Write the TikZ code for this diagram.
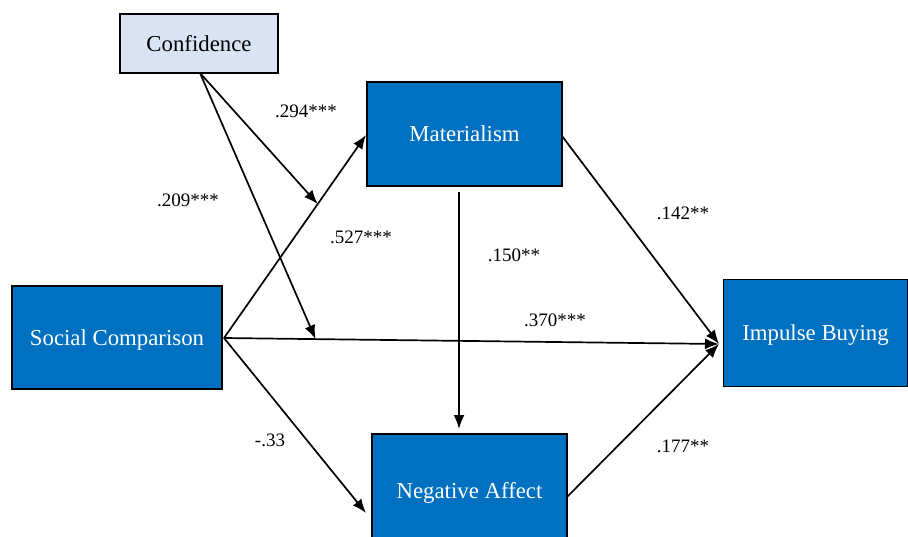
\documentclass[tikz,border=0pt]{standalone}
\usepackage{fontspec}
\setmainfont{Liberation Serif}
\usetikzlibrary{arrows.meta,calc}
\definecolor{boxblue}{HTML}{0070C0}
\definecolor{lightblue}{HTML}{DAE3F3}
\begin{document}
\begin{tikzpicture}[x=1pt,y=-1pt,
  bluebox/.style={draw=black,line width=1.8pt,fill=boxblue,text=white,inner sep=0pt,text depth=0pt,font=\fontsize{22.8}{26}\selectfont},
  lightbox/.style={draw=black,line width=1.8pt,fill=lightblue,text=black,inner sep=0pt,text depth=0pt,font=\fontsize{22.8}{26}\selectfont},
  conn/.style={line width=1.7pt,-{Latex[length=14pt,width=11pt]}},
  lbl/.style={font=\fontsize{19}{22}\selectfont,inner sep=0pt}]
\useasboundingbox (0,0) rectangle (908,536);
\node[lightbox,minimum width=158pt,minimum height=59pt] (conf) at (199,43.5) {Confidence};
\node[bluebox,minimum width=195pt,minimum height=104pt] (mat) at (464.5,134) {Materialism};
\node[bluebox,minimum width=210pt,minimum height=103pt,text depth=-4pt] (sc) at (117,337.5) {Social Comparison};
\node[bluebox,minimum width=184pt,minimum height=107pt,text depth=-3pt] (ib) at (815.5,333) {Impulse Buying};
\node[bluebox,minimum width=195pt,minimum height=112pt] (na) at (469.5,490) {Negative Affect};
\coordinate (scR) at (224,338);
\coordinate (ibL) at (719,344);
\coordinate (matL) at (366,135);
\coordinate (matR) at (562,136);
\coordinate (confB) at (200,73);
\coordinate (matB) at (459,192);
\coordinate (naT) at (459,429);
\coordinate (naL) at (366,513);
\coordinate (naR) at (567,497);
\coordinate (t1) at ($(scR)!0.66!(matL)$);
\coordinate (t2) at ($(scR)!0.185!(ibL)$);
\draw[conn] (scR) -- (matL);
\draw[conn] (scR) -- (ibL);
\draw[conn] (scR) -- (naL);
\draw[conn] (confB) -- (t1);
\draw[conn] (confB) -- (t2);
\draw[conn] (matB) -- (naT);
\draw[conn] (matR) -- (ibL);
\draw[conn] (naR) -- (ibL);
\node[lbl] (l1) at (306,111) {.294***};
\node[lbl] (l2) at (188,200) {.209***};
\node[lbl] (l3) at (361,237) {.527***};
\node[lbl] (l4) at (514,255) {.150**};
\node[lbl] (l5) at (683,213) {.142**};
\node[lbl] (l6) at (555,320) {.370***};
\node[lbl] (l7) at (270,440) {-.33};
\node[lbl] (l8) at (683,446) {.177**};
\end{tikzpicture}
\end{document}
